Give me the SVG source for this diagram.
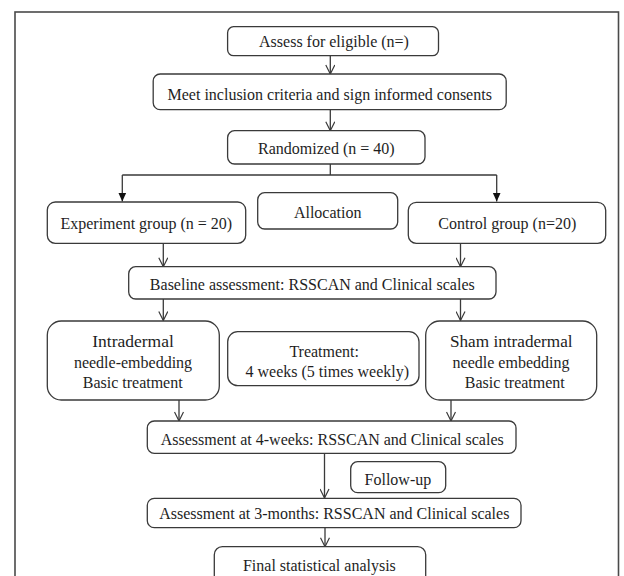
<svg xmlns="http://www.w3.org/2000/svg" width="624" height="576" viewBox="0 0 624 576">
<defs>
<style>
.box{fill:#fff;stroke:#3a3a3a;stroke-width:1.3}
.t{font-family:"Liberation Serif","Times New Roman",serif;font-size:16px;fill:#1e1e1e;text-anchor:middle}
.big{font-size:17.5px}
.c{fill:none;stroke:#3a3a3a;stroke-width:1.3}
</style>
<marker id="open" viewBox="0 0 10 10" refX="10" refY="5" markerWidth="10" markerHeight="10" markerUnits="userSpaceOnUse" orient="auto">
<path d="M1,0.5 L10,5 L1,9.5" fill="none" stroke="#3a3a3a" stroke-width="1.2"/>
</marker>
<marker id="solid" viewBox="0 0 10 10" refX="10" refY="5" markerWidth="9" markerHeight="9" markerUnits="userSpaceOnUse" orient="auto">
<path d="M0,0.5 L10,5 L0,9.5 Z" fill="#111"/>
</marker>
</defs>
<rect width="624" height="576" fill="#fff"/>
<rect x="15" y="12" width="603.5" height="580" fill="none" stroke="#4a4a4a" stroke-width="1.6"/>

<g id="connectors">
<path class="c" d="M330.3,55.7 V74" marker-end="url(#open)"/>
<path class="c" d="M330.3,110 V130.7" marker-end="url(#open)"/>
<path class="c" d="M330.3,164 V175 M122.3,175 H496.7"/>
<path class="c" d="M122.3,175 V201.5" marker-end="url(#solid)"/>
<path class="c" d="M496.7,175 V201.5" marker-end="url(#solid)"/>
<path class="c" d="M163.3,243.3 V266.7" marker-end="url(#open)"/>
<path class="c" d="M460.5,243.3 V266.7" marker-end="url(#open)"/>
<path class="c" d="M163.3,299 V320.5" marker-end="url(#open)"/>
<path class="c" d="M460.5,299 V320.5" marker-end="url(#open)"/>
<path class="c" d="M179,400 V421" marker-end="url(#open)"/>
<path class="c" d="M451,400 V421" marker-end="url(#open)"/>
<path class="c" d="M324.5,453.3 V498" marker-end="url(#open)"/>
<path class="c" d="M325,527.7 V546.7" marker-end="url(#open)"/>
</g>

<g id="assess">
<rect class="box" x="227.6" y="26.7" width="210.9" height="29" rx="6"/>
<text class="t" x="334" y="47">Assess for eligible (n=)</text>
</g>
<g id="meet">
<rect class="box" x="153.2" y="74" width="353" height="35.7" rx="7"/>
<text class="t" x="329.7" y="99.8">Meet inclusion criteria and sign informed consents</text>
</g>
<g id="randomized">
<rect class="box" x="227.6" y="130.7" width="197.4" height="33.3" rx="7"/>
<text class="t" x="326.3" y="153.8">Randomized (n = 40)</text>
</g>
<g id="allocation">
<rect class="box" x="257.7" y="192.7" width="140" height="36.3" rx="7"/>
<text class="t" x="327.7" y="218">Allocation</text>
</g>
<g id="experiment">
<rect class="box" x="47.3" y="202" width="198.4" height="41.3" rx="8"/>
<text class="t" x="146.3" y="229">Experiment group (n = 20)</text>
</g>
<g id="control">
<rect class="box" x="408.3" y="202.3" width="197.4" height="41" rx="8"/>
<text class="t" x="507.3" y="229.3">Control group (n=20)</text>
</g>
<g id="baseline">
<rect class="box" x="128.7" y="266.7" width="367.3" height="32.3" rx="7"/>
<text class="t" x="312.3" y="290.3">Baseline assessment: RSSCAN and Clinical scales</text>
</g>
<g id="intradermal">
<rect class="box" x="47.3" y="321" width="172" height="79" rx="14"/>
<text class="t big" x="133" y="346.7">Intradermal</text>
<text class="t" x="133" y="367.7">needle-embedding</text>
<text class="t" x="132.7" y="387.7">Basic treatment</text>
</g>
<g id="treatment">
<rect class="box" x="227.7" y="331.7" width="191.3" height="54" rx="10"/>
<text class="t" x="324.2" y="357.2">Treatment:</text>
<text class="t" x="327.3" y="377.2">4 weeks (5 times weekly)</text>
</g>
<g id="sham">
<rect class="box" x="425.7" y="321" width="171" height="79" rx="14"/>
<text class="t" x="511.3" y="347.2" style="font-size:17.2px">Sham intradermal</text>
<text class="t" x="511" y="368.2">needle embedding</text>
<text class="t" x="514.8" y="387.7">Basic treatment</text>
</g>
<g id="assess4w">
<rect class="box" x="147.3" y="421" width="368.7" height="32.3" rx="7"/>
<text class="t" x="332.2" y="444.7">Assessment at 4-weeks: RSSCAN and Clinical scales</text>
</g>
<g id="followup">
<rect class="box" x="350.7" y="461.7" width="95" height="31" rx="7"/>
<text class="t" x="397.9" y="484.7">Follow-up</text>
</g>
<g id="assess3m">
<rect class="box" x="147.3" y="498.3" width="373.7" height="29.4" rx="7"/>
<text class="t" x="334.3" y="518.7">Assessment at 3-months: RSSCAN and Clinical scales</text>
</g>
<g id="final">
<rect class="box" x="214.3" y="546.7" width="211.4" height="38" rx="8"/>
<text class="t" x="319.4" y="570.5">Final statistical analysis</text>
</g>
</svg>
